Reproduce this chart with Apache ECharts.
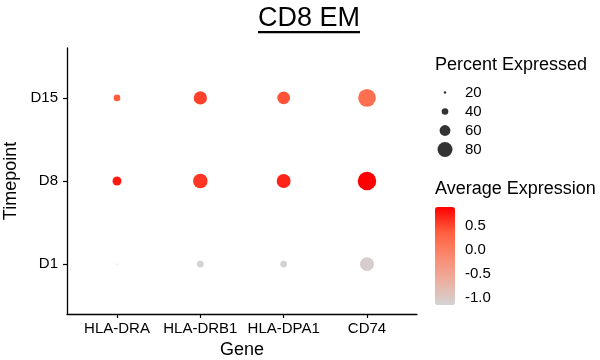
<!DOCTYPE html>
<html><head><meta charset="utf-8">
<script src="https://cdn.jsdelivr.net/npm/echarts@6/dist/echarts.min.js"></script>
<style>html,body{margin:0;padding:0;background:#fff}#c{width:600px;height:360px}</style>
</head><body><div id="c"></div>
<script>
const genes = ['HLA-DRA','HLA-DRB1','HLA-DPA1','CD74'];
const timepoints = ['D1','D8','D15'];
const pctD1  = [14, 40, 40, 75];
const pctD8  = [51, 78, 75, 97];
const pctD15 = [40, 72, 69, 93];
const avgD1  = [-1.14, -1.15, -1.15, -1.08];
const avgD8  = [0.76, 0.6, 0.7, 0.9];
const avgD15 = [0.38, 0.55, 0.45, 0.18];
const sizeBreaks = [20, 40, 60, 80];
const colorBreaks = [-1.0, -0.5, 0.0, 0.5];
const colorMin = -1.15, colorMax = 0.9;

const pctRows = [pctD1, pctD8, pctD15];
const avgRows = [avgD1, avgD8, avgD15];
const data = [];
timepoints.forEach((t, ti) => genes.forEach((g, gi) => {
  data.push([gi, ti, pctRows[ti][gi], avgRows[ti][gi]]);
}));
const pctMin = 8;
function dia(p) { return Math.max(0.5, 0.208 * (p - pctMin)); }

const FONT = 'Liberation Sans, Arial, sans-serif';
const chart = echarts.init(document.getElementById('c'));
chart.setOption({
  animation: false,
  textStyle: { fontFamily: FONT },
  grid: [
    { left: 67, top: 48, width: 350, height: 266, containLabel: false, outerBoundsMode: 'none' },
    { left: 435, top: 83, width: 20, height: 76, containLabel: false, outerBoundsMode: 'none' },
    { left: 435, top: 207, width: 20, height: 98, containLabel: false, outerBoundsMode: 'none' }
  ],
  xAxis: [
    { type: 'value', gridIndex: 0, min: -0.6, max: 3.6, splitLine: { show: false },
      axisLine: { show: true, onZero: false, lineStyle: { color: '#000', width: 1.3 } },
      axisTick: { show: true, length: 4, customValues: [0,1,2,3], lineStyle: { color: '#000', width: 1.2 } },
      axisLabel: { customValues: [0,1,2,3], formatter: v => genes[Math.round(v)], color: '#000', fontSize: 15, margin: 7, fontFamily: FONT, hideOverlap: false },
      name: 'Gene', nameLocation: 'middle', nameGap: 25, nameTextStyle: { fontSize: 18, color: '#000', fontFamily: FONT } },
    { type: 'value', gridIndex: 1, min: 0, max: 1, show: false },
    { type: 'value', gridIndex: 2, min: 0, max: 1, show: false }
  ],
  yAxis: [
    { type: 'value', gridIndex: 0, min: -0.6, max: 2.6, splitLine: { show: false },
      axisLine: { show: true, onZero: false, lineStyle: { color: '#000', width: 1.3 } },
      axisTick: { show: true, length: 4, customValues: [0,1,2], lineStyle: { color: '#000', width: 1.2 } },
      axisLabel: { customValues: [0,1,2], formatter: v => timepoints[Math.round(v)], color: '#000', fontSize: 15, margin: 9, fontFamily: FONT },
      name: 'Timepoint', nameLocation: 'middle', nameGap: 42, nameRotate: 90, nameTextStyle: { fontSize: 18, color: '#000', fontFamily: FONT } },
    { type: 'category', gridIndex: 1, data: sizeBreaks.map(String), inverse: true, position: 'right',
      axisLine: { show: false }, axisTick: { show: false },
      axisLabel: { interval: 0, hideOverlap: false, color: '#000', fontSize: 15, margin: 10, fontFamily: FONT } },
    { type: 'value', gridIndex: 2, min: colorMin, max: colorMax, position: 'left', splitLine: { show: false },
      axisLine: { show: false },
      axisTick: { show: true, inside: true, length: 4, customValues: colorBreaks, lineStyle: { color: '#fff', width: 1 } },
      axisLabel: { show: false } },
    { type: 'value', gridIndex: 2, min: colorMin, max: colorMax, position: 'right', splitLine: { show: false },
      axisLine: { show: false },
      axisTick: { show: true, inside: true, length: 4, customValues: colorBreaks, lineStyle: { color: '#fff', width: 1 } },
      axisLabel: { customValues: colorBreaks, formatter: v => v.toFixed(1), color: '#000', fontSize: 15, margin: 10, fontFamily: FONT, hideOverlap: false } }
  ],
  visualMap: {
    type: 'continuous', seriesIndex: 0, dimension: 3, min: colorMin, max: colorMax,
    calculable: false, hoverLink: false, left: 435, top: 207, itemWidth: 20, itemHeight: 98,
    padding: 0, text: null, showLabel: false, z: 1,
    inRange: { color: ['#D3D3D3', '#ECAF9F', '#F9896E', '#FF5D3D', '#FF0000'] }
  },
  series: [
    { type: 'scatter', xAxisIndex: 0, yAxisIndex: 0, data: data,
      symbolSize: d => dia(d[2]), itemStyle: { opacity: 1 } },
    { type: 'scatter', xAxisIndex: 1, yAxisIndex: 1,
      data: sizeBreaks.map(b => [0.5, String(b), b]),
      symbolSize: d => dia(d[2]), itemStyle: { color: '#000' } },
    { type: 'scatter', xAxisIndex: 2, yAxisIndex: 3, data: [], silent: true }
  ],
  graphic: [
    { type: 'text', left: 435, top: 56, style: { text: 'Percent Expressed', fontSize: 18, fill: '#000', fontFamily: FONT } },
    { type: 'text', left: 435, top: 180, style: { text: 'Average Expression', fontSize: 18, fill: '#000', fontFamily: FONT } },
    { type: 'text', x: 309, y: 5, style: { text: 'CD8 EM', fontSize: 27, fill: '#000', fontFamily: FONT, align: 'center', verticalAlign: 'top' } },
    { type: 'rect', shape: { x: 258, y: 31, width: 102, height: 2.2 }, style: { fill: '#000' } }
  ]
});
</script></body></html>
